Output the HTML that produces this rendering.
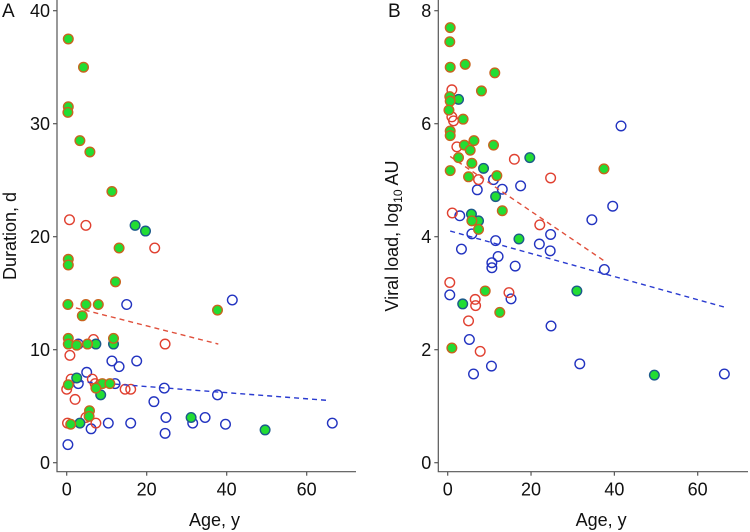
<!DOCTYPE html>
<html><head><meta charset="utf-8"><style>
html,body{margin:0;padding:0;background:#fff;}
svg{display:block;font-family:"Liberation Sans",Arial,sans-serif;}
</style></head><body>
<svg id="chart" width="750" height="532" viewBox="0 0 750 532"></svg>
<script>
// Panel A data: [age, duration]
const aGreenRed=[[0.4,37.5],[4.2,35],[0.4,31.5],[0.3,31],[3.3,28.5],[5.8,27.5],[11.3,24],[13.1,19],[0.4,18],[0.4,17.5],[12.2,16],[0.3,14],[4.8,14],[7.9,14],[3.9,13],[37.7,13.5],[0.4,11],[0.4,10.5],[2.5,10.4],[5.2,10.5],[11.7,11],[0.4,6.9],[8.9,7],[10.8,7],[7.3,6.6],[5.7,4.6],[5.6,4.1],[1,3.4]];
const aGreenBlue=[[17.1,21],[19.7,20.5],[7.3,10.5],[11.7,10.5],[2.5,7.5],[8.5,6],[3.3,3.5],[31.1,4],[49.6,2.9]];
const aRedOpen=[[0.7,21.5],[4.8,21],[22,19],[0.8,9.5],[24.6,10.5],[6.7,10.9],[1.1,7.4],[6.4,7.4],[7.1,7],[0,6.5],[2.1,5.6],[14.6,6.5],[16,6.5],[0.2,3.5],[7.3,3.5],[4.8,4]];
const aBlueOpen=[[15,14],[41.4,14.4],[2.9,10.5],[11.3,9],[13.1,8.5],[17.5,9],[5,8],[2.9,7],[12.1,7],[24.4,6.6],[37.7,6],[21.8,5.4],[24.8,4],[34.6,4],[31.5,3.5],[39.7,3.4],[66.4,3.5],[10.4,3.5],[16,3.5],[6.1,3],[24.6,2.6],[0.3,1.6]];
const aRedFit=[[2.3,13.7],[37.9,10.5]];
const aBlueFit=[[3,7.2],[65.8,5.5]];
const aYTicks=[0,10,20,30,40];
const xTicks=[0,20,40,60];
// Panel B data: [age, log10 viral load]
const bGreenRed=[[0.6,7.7],[0.5,7.45],[0.6,7],[4.2,7.05],[11.3,6.9],[8.1,6.58],[0.5,6.48],[0.6,6.4],[0.3,6.24],[3.7,6.08],[0.6,5.87],[0.6,5.79],[4,5.62],[5.4,5.53],[6.3,5.7],[11,5.62],[2.6,5.4],[5.8,5.3],[0.6,5.17],[5,5.06],[11.8,5.08],[37.5,5.2],[13.1,4.46],[5.8,4.28],[7.4,4.13],[9,3.04],[12.5,2.66],[1,2.03]];
const bGreenBlue=[[2.6,6.43],[19.7,5.4],[8.6,5.21],[11.5,4.71],[5.7,4.4],[7.4,4.28],[17.1,3.96],[31,3.04],[3.6,2.81],[49.6,1.55]];
const bRedOpen=[[1,6.6],[1,6.12],[1.4,6.05],[2.2,5.59],[16,5.37],[24.7,5.04],[7.4,5.01],[1.1,4.42],[22.1,4.21],[0.5,3.19],[6.6,2.89],[6.7,2.78],[14.7,3.01],[5,2.51],[7.8,1.97]];
const bBlueOpen=[[41.6,5.96],[17.5,4.9],[11,5.01],[13.1,4.84],[7.1,4.83],[2.9,4.37],[39.6,4.54],[34.6,4.3],[5.8,4.05],[11.5,3.93],[3.3,3.78],[22,3.87],[24.7,4.04],[24.6,3.75],[12.1,3.65],[10.6,3.54],[10.6,3.45],[16.2,3.48],[37.6,3.42],[0.5,2.97],[15.2,2.9],[24.8,2.42],[5.2,2.18],[10.5,1.71],[31.7,1.75],[6.2,1.57],[66.4,1.57]];
const bRedFit=[[0.6,5.42],[37.8,3.56]];
const bBlueFit=[[0.6,4.1],[66.6,2.75]];
const bYTicks=[0,2,4,6,8];

const NS="http://www.w3.org/2000/svg";
const svg=document.getElementById('chart');
function mk(tag,attrs,parent){const e=document.createElementNS(NS,tag);for(const k in attrs)e.setAttribute(k,attrs[k]);(parent||svg).appendChild(e);return e;}

function panel(cfg){
  const g=mk('g',{});
  
  
  const xs=v=>cfg.x0+(v)*(cfg.x60-cfg.x0)/60;
  const ys=v=>cfg.y0+(v)*(cfg.yTop-cfg.y0)/cfg.yMax;
  const ax=mk('path',{d:`M${cfg.axX} 0 V${cfg.axY} H${cfg.axEnd}`,fill:'none',stroke:'#555','stroke-width':1.2},g);
  
  
  cfg.yTicks.forEach(t=>{
    const y=ys(t);
    const l=mk('line',{x1:cfg.axX-4,x2:cfg.axX,y1:y,y2:y,stroke:'#555','stroke-width':1.2},g);
    
    
    const tx=mk('text',{x:cfg.axX-7,y:y+6.5,'text-anchor':'end','font-size':18,fill:'#111'},g);
    tx.textContent=t;
    
    
  });
  xTicks.forEach(t=>{
    const x=xs(t);
    const l=mk('line',{x1:x,x2:x,y1:cfg.axY,y2:cfg.axY+4,stroke:'#555','stroke-width':1.2},g);
    
    
    const tx=mk('text',{x:x,y:cfg.axY+24,'text-anchor':'middle','font-size':18,fill:'#111'},g);
    tx.textContent=t;
    
    
  });
  const fits=[[cfg.redFit,'#e0503c'],[cfg.blueFit,'#2a3bd0']];
  const dots=(arr,fill,stroke,nm)=>arr.forEach(p=>{
    const c=mk('circle',{cx:xs(p[0]),cy:ys(p[1]),r:4.8,fill:fill,stroke:stroke,'stroke-width':1.4},g);
    
    
  });
  dots(cfg.blueOpen,'none','#2233c0','point-blue-open');
  dots(cfg.redOpen,'none','#e04030','point-red-open');
  fits.forEach(f=>{
    const l=mk('line',{x1:xs(f[0][0][0]),y1:ys(f[0][0][1]),x2:xs(f[0][1][0]),y2:ys(f[0][1][1]),stroke:f[1],'stroke-width':1.4,'stroke-dasharray':'5,4'},g);
    
    
  });
  dots(cfg.greenBlue,'#22dd33','#1c5a8a','point-green-blue');
  dots(cfg.greenRed,'#22dd33','#c8641e','point-green-red');
  const pl=mk('text',{x:cfg.labelX,y:17,'font-size':19,fill:'#111'},g);
  pl.textContent=cfg.label;
  
  
  const xt=mk('text',{x:(cfg.axX+cfg.axEnd)/2+8,y:526,'text-anchor':'middle','font-size':18,fill:'#111'},g);
  xt.textContent='Age, y';
  
  
  return {g,ys};
}
panel({name:'panel-a',label:'A',labelX:2,axX:57,axY:471.7,axEnd:356,x0:66.7,x60:306.7,y0:462.7,yTop:10.7,yMax:40,yTicks:aYTicks,
  greenRed:aGreenRed,greenBlue:aGreenBlue,redOpen:aRedOpen,blueOpen:aBlueOpen,redFit:aRedFit,blueFit:aBlueFit});
panel({name:'panel-b',label:'B',labelX:388,axX:438.3,axY:471.7,axEnd:748,x0:447.7,x60:697.7,y0:462.7,yTop:10.7,yMax:8,yTicks:bYTicks,
  greenRed:bGreenRed,greenBlue:bGreenBlue,redOpen:bRedOpen,blueOpen:bBlueOpen,redFit:bRedFit,blueFit:bBlueFit});
const ya=mk('text',{transform:'translate(16,236) rotate(-90)','text-anchor':'middle','font-size':18,fill:'#111'});
ya.textContent='Duration, d';


const yb=mk('text',{transform:'translate(398,236) rotate(-90)','text-anchor':'middle','font-size':18,fill:'#111'});
yb.innerHTML='Viral load, log<tspan font-size="12" dy="4">10</tspan><tspan dy="-4"> AU</tspan>';


</script>
</body></html>
